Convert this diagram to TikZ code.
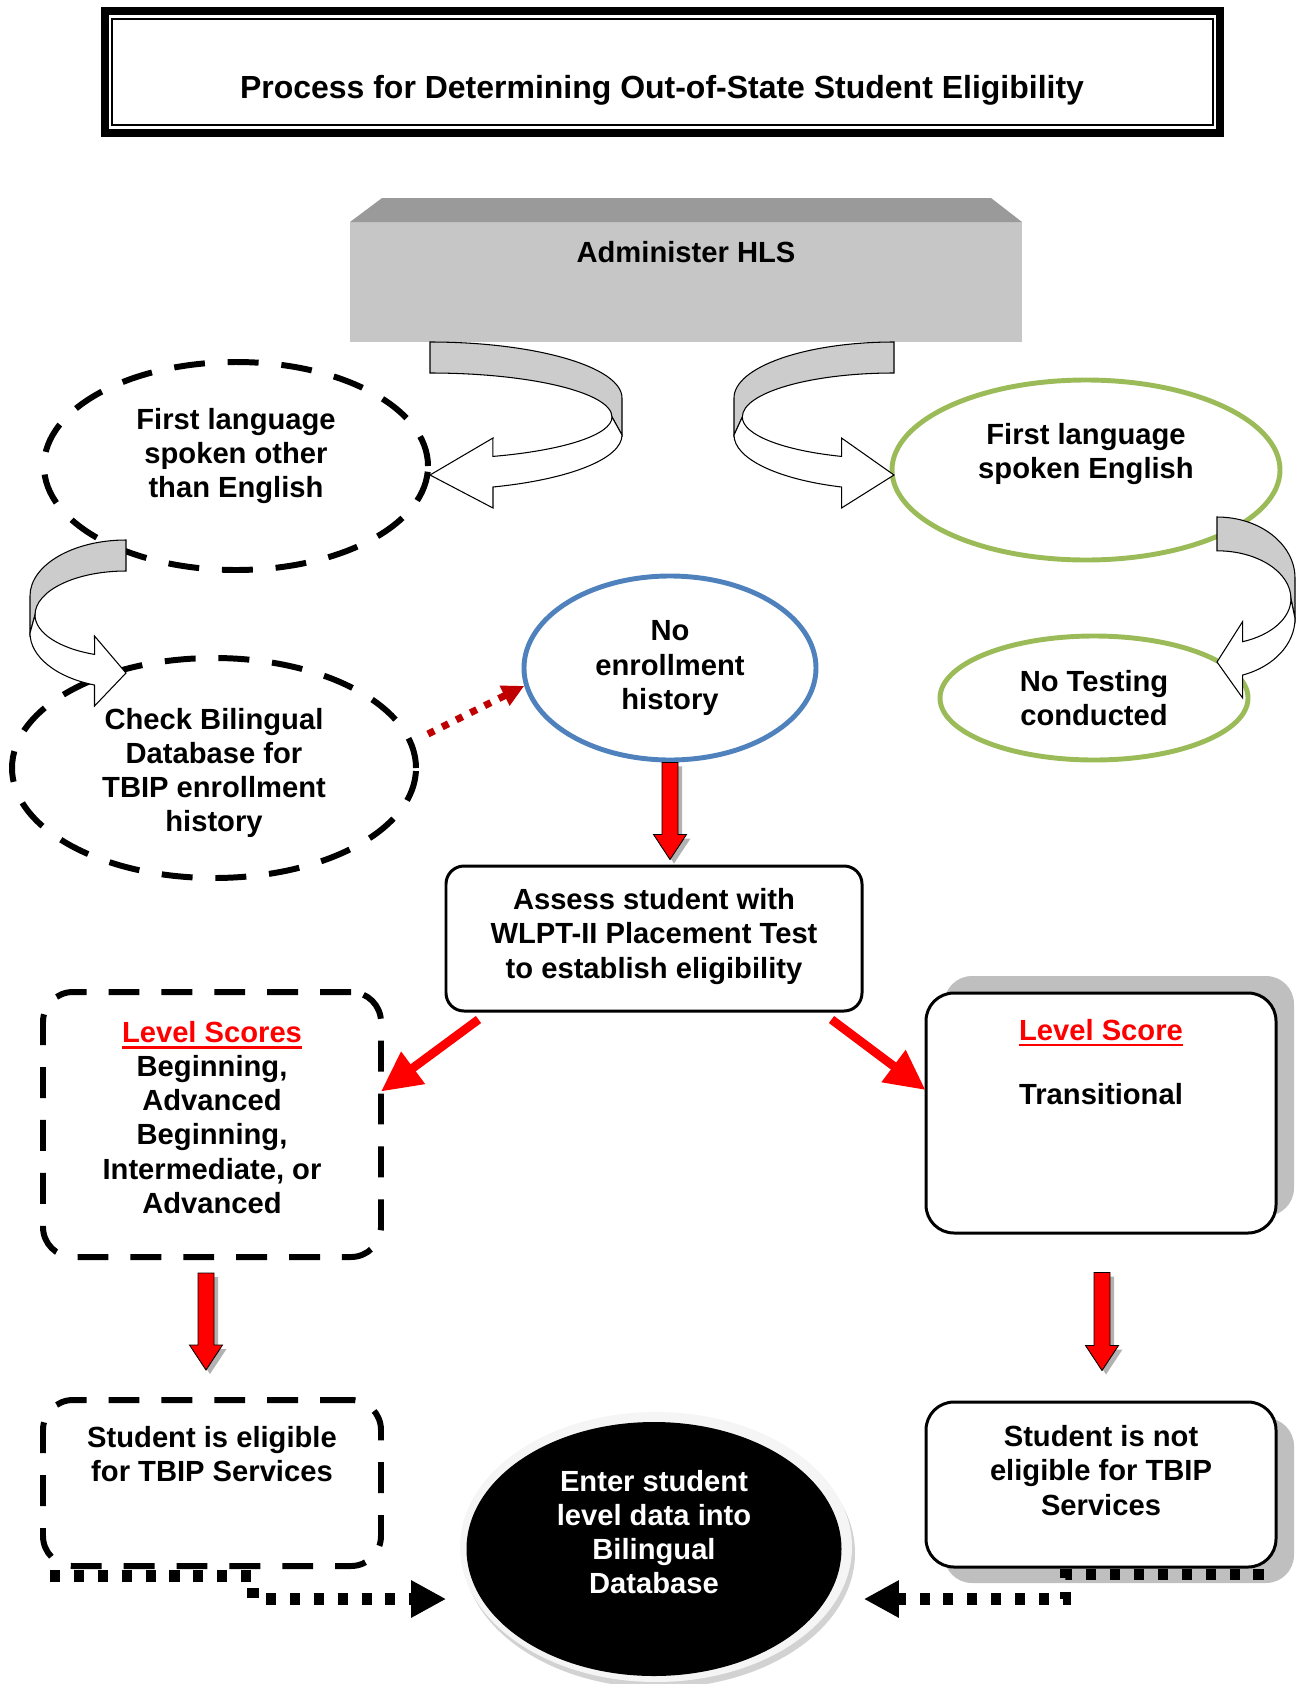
\documentclass[tikz,border=0pt]{standalone}
\usepackage{fontspec}
\setmainfont{Liberation Sans}
\usepackage{xcolor}
\usetikzlibrary{arrows.meta, calc, shadows, shapes.geometric}

\definecolor{LangGreen}{RGB}{155,187,89}
\definecolor{HistBlue}{RGB}{79,129,189}
\definecolor{DotRed}{RGB}{192,0,0}
\definecolor{FaceGray}{RGB}{198,198,198}
\definecolor{TopGray}{RGB}{154,154,154}
\definecolor{BandGray}{RGB}{204,204,204}

\newcommand{\pxu}{0.02cm} % one pixel of the picture
\newcommand{\redul}[1]{{\color{red}\setbox0=\hbox{#1}\rlap{\rule[-3.4pt]{\wd0}{1.6pt}}\box0}}

\tikzset{
  txt/.style={font=\bfseries\fontsize{16.6}{19.4}\selectfont, align=center, inner sep=0pt},
  titletxt/.style={font=\bfseries\fontsize{18.2}{21}\selectfont, inner sep=0pt},
  dashell/.style={ellipse, draw, line width=3.4pt, dash pattern=on 17.6pt off 13pt, inner sep=0pt},
  greenell/.style={ellipse, draw=LangGreen, line width=2.8pt, inner sep=0pt},
  blueell/.style={ellipse, draw=HistBlue, line width=2.8pt, inner sep=0pt},
  dashbox/.style={draw, line width=3.4pt, dash pattern=on 17.6pt off 12.5pt, rounded corners=0.6cm, inner sep=0pt},
  roundbox/.style={draw, line width=1.7pt, fill=white, inner sep=0pt},
  bandback/.style={fill=BandGray, draw=black, line width=0.6pt},
  bandfront/.style={fill=white, draw=black, line width=0.6pt},
  redarrow/.style={draw=red, line width=5pt, -{Triangle[length=0.8cm, width=0.76cm]}},
  reddots/.style={draw=DotRed, line width=4pt, dash pattern=on 4pt off 5pt, -{Triangle[length=0.44cm, width=0.42cm]}},
  dotconn/.style={draw=black, line width=6.8pt, dash pattern=on 5.7pt off 7.9pt, -{Triangle[length=0.7cm, width=0.7cm]}},
  blockdown/.style={fill=red, draw=black, line width=0.5pt,
    drop shadow={shadow xshift=0.08cm, shadow yshift=-0.08cm, fill=gray!60, opacity=1},
    to path={let \p1=(\tikztostart), \p2=(\tikztotarget) in
      -- (\x1+0.16cm,\y1) -- (\x1+0.16cm,\y2+0.5cm) -- (\x1+0.33cm,\y2+0.5cm) -- (\x1,\y2)
      -- (\x1-0.33cm,\y2+0.5cm) -- (\x1-0.16cm,\y2+0.5cm) -- (\x1-0.16cm,\y1) -- cycle}}
}

\providecommand{\CurvArrow}[4]{%
  % #1, #2: band end (px), #3: width (px, negative bulges left), #4: vertical stretch
  \begin{scope}[shift={(#1,#2)}, xscale=#3, yscale=#4]
    \filldraw[bandback] (0,0) arc[start angle=-90, end angle=0, x radius=1, y radius=56]
      -- (1,93) -- (0.948,75) arc[start angle=0, end angle=-90, x radius=0.948, y radius=44] -- cycle;
    \filldraw[bandfront] (0.948,75) arc[start angle=0, end angle=69.8, x radius=0.948, y radius=42]
      -- (0.328,96) -- (0,133) -- (0.328,166) -- (0.328,145)
      arc[start angle=70.85, end angle=0, x radius=1, y radius=55] -- cycle;
  \end{scope}
}

\begin{document}
\begin{tikzpicture}[x=0.02cm, y=-0.02cm]
  \useasboundingbox (0,0) rectangle (1299,1684);

  % title
  \node[draw, line width=4.5pt, minimum width=1115*\pxu, minimum height=122*\pxu, inner sep=0pt] (titlebox) at (662.5,72) {};
  \draw[line width=0.85pt] ($(titlebox.north west)+(11,12)$) rectangle ($(titlebox.south east)+(-11,-12)$);
  \node[titletxt, anchor=base] (title) at (662,98) {Process for Determining Out-of-State Student Eligibility};

  % HLS
  \node[fill=FaceGray, minimum width=672*\pxu, minimum height=120*\pxu, inner sep=0pt, outer sep=0pt] (hls) at (686,282) {};
  \fill[TopGray] (hls.north west) -- ++(32,-24) -- ($(hls.north east)+(-31,-24)$) -- (hls.north east) -- cycle;
  \node[txt, anchor=base] (hls-t) at (686,262) {Administer HLS};

  % language ellipses
  \node[dashell, minimum width=384*\pxu, minimum height=208*\pxu] (other) at (236,466) {};
  \node[txt] (other-t) at ($(other)+(0,-10)$) {First language\\spoken other\\than English};
  \node[greenell, minimum width=388*\pxu, minimum height=180*\pxu] (eng) at (1086,470) {};
  \node[txt] (eng-t) at ($(eng)+(0,-16)$) {First language\\spoken English};
  \node[dashell, minimum width=404*\pxu, minimum height=220*\pxu] (check) at (214,768) {};
  \node[txt] (check-t) at ($(check)+(0,5)$) {Check Bilingual\\Database for\\TBIP enrollment\\history};
  \node[blueell, txt, minimum width=292*\pxu, minimum height=184*\pxu] (noenr) at (670,668) {No\\enrollment\\history};
  \node[greenell, txt, minimum width=308*\pxu, minimum height=124*\pxu] (notest) at (1094,698) {No Testing\\conducted};

  \CurvArrow{430}{342}{192}{1}
  \CurvArrow{894}{342}{-160}{1}
  \CurvArrow{126}{540}{-96}{1}
  \CurvArrow{1217}{517}{78}{1.09}

  \draw[reddots] ($(check.east)+(9,-34)$) -- (noenr.187);

  % test
  \node[roundbox, rounded corners=0.36cm, minimum width=416*\pxu, minimum height=145*\pxu] (assess) at (654,938.5) {};
  \node[txt] (assess-t) at ($(assess)+(0,-2)$) {Assess student with\\WLPT-II Placement Test\\to establish eligibility};
  \draw[blockdown] (noenr.south) to ($(assess.north)+(0,-5)$);

  % scores
  \node[dashbox, minimum width=338*\pxu, minimum height=265*\pxu] (lvl) at (212,1124.5) {};
  \node[txt] (lvl-t) at ($(lvl)+(0,-7)$) {\redul{Level Scores}\\Beginning,\\Advanced\\Beginning,\\Intermediate, or\\Advanced};
  \node[roundbox, rounded corners=0.56cm, minimum width=350*\pxu, minimum height=240*\pxu,
    drop shadow={shadow xshift=0.36cm, shadow yshift=0.34cm, fill=gray!50, opacity=1}] (rlvl) at (1101,1113) {};
  \node[txt] (rlvl-t) at ($(rlvl)+(0,-51)$) {\redul{Level Score}\\[17pt]Transitional};

  \draw[redarrow] ($(assess.south west)+(34,7)$) -- ($(lvl.east)+(-3,-33)$);
  \draw[redarrow] ($(assess.south east)+(-32,7)$) -- ($(rlvl.west)+(1,-23)$);

  % outcome
  \node[dashbox, minimum width=338*\pxu, minimum height=166*\pxu] (elig) at (212,1483) {};
  \node[txt] (elig-t) at ($(elig)+(0,-29)$) {Student is eligible\\for TBIP Services};
  \node[roundbox, rounded corners=0.56cm, minimum width=350*\pxu, minimum height=165*\pxu,
    drop shadow={shadow xshift=0.36cm, shadow yshift=-0.32cm, fill=gray!50, opacity=1}] (nelig) at (1101,1484.5) {};
  \node[txt] (nelig-t) at ($(nelig)+(0,-14)$) {Student is not\\eligible for TBIP\\Services};

  \draw[blockdown] ($(lvl.south)+(-6,13)$) to ($(elig.north)+(-6,-27)$);
  \draw[blockdown] ($(rlvl.south)+(1,38)$) to ($(nelig.north)+(1,-30)$);

  % database
  \coordinate (dbc) at (654,1549);
  \fill[gray!35] ($(dbc)+(5,4)$) ellipse [x radius=196, y radius=135];
  \fill[gray!8] ($(dbc)+(2,-2)$) ellipse [x radius=196, y radius=135];
  \node[ellipse, fill=black, inner sep=0pt, minimum width=375*\pxu, minimum height=254*\pxu] (db) at (dbc) {};
  \node[txt, text=white] (db-t) at ($(db)+(0,-17)$) {Enter student\\level data into\\Bilingual\\Database};

  \draw[dotconn] ($(elig.south west)+(10,7)$) -- ++(203,0) |- ($(db.west)+(-20,50)$);
  \draw[dotconn] ($(nelig.south east)+(-14,6)$) -- ++(-198,0) |- ($(db.east)+(22,50)$);
\end{tikzpicture}
\end{document}
